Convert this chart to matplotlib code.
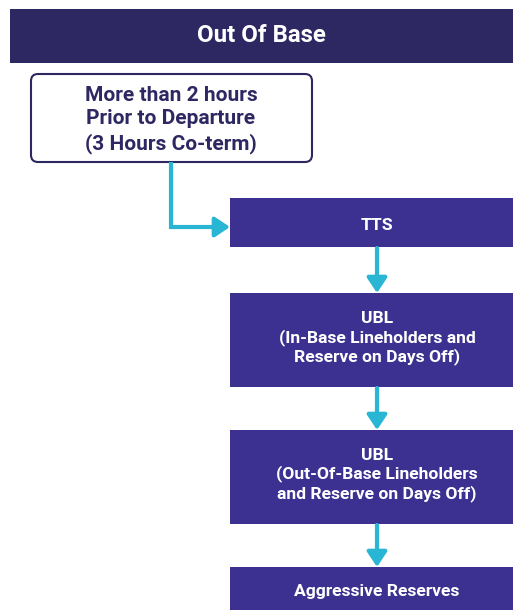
import matplotlib.pyplot as plt
from matplotlib.patches import Rectangle, FancyBboxPatch

plt.rcParams['font.family'] = ['Roboto', 'DejaVu Sans']

header_text = 'Out Of Base'
start_text = 'More than 2 hours\nPrior to Departure\n(3 Hours Co-term)'
step_labels = [
    'TTS',
    'UBL\n(In-Base Lineholders and\nReserve on Days Off)',
    'UBL\n(Out-Of-Base Lineholders\nand Reserve on Days Off)',
    'Aggressive Reserves',
]

# layout in pixels (top, bottom) of each step box
step_rows = [(198, 247), (293, 387), (430, 524), (567, 610)]
step_x0, step_x1 = 230, 524

dark = '#2d2762'
box_col = '#3c3190'
arrow_col = '#29b6d4'

fig = plt.figure(figsize=(5.13, 6.10), dpi=100)
ax = fig.add_axes([0, 0, 1, 1])
ax.set_xlim(0, 513)
ax.set_ylim(610, 0)
ax.axis('off')

# header band
ax.add_patch(Rectangle((10, 9), 503, 54, color=dark, lw=0))
ax.text(261, 35, header_text, color='white', fontsize=17.3,
        fontweight='bold', ha='center', va='center')

# starting condition box
ax.add_patch(FancyBboxPatch((31, 74), 281, 88,
                            boxstyle='round,pad=0,rounding_size=7',
                            fc='white', ec=dark, lw=1.5))
ax.text(171, 120, start_text, color=dark, fontsize=15,
        fontweight='bold', ha='center', va='center', linespacing=1.31)

# elbow connector to first step
ax.plot([171, 171, 218], [162, 227, 227], color=arrow_col, lw=3,
        solid_capstyle='butt', solid_joinstyle='miter')
ax.annotate('', xy=(step_x0, 227), xytext=(214, 227),
            arrowprops=dict(arrowstyle='-|>,head_length=0.9,head_width=0.6',
                            color=arrow_col, lw=3, shrinkA=0, shrinkB=0))

cx = 377
for i, (label, (top, bot)) in enumerate(zip(step_labels, step_rows)):
    ax.add_patch(Rectangle((step_x0, top), step_x1 - step_x0, bot - top,
                           color=box_col, lw=0))
    nlines = label.count('\n') + 1
    ty = (top + bot) / 2 + (3 if nlines == 1 else -2)
    ax.text(cx, ty, label, color='white', fontsize=12.6,
            fontweight='bold', ha='center', va='center', linespacing=1.22)
    if i + 1 < len(step_rows):
        nxt = step_rows[i + 1][0]
        ax.annotate('', xy=(cx, nxt), xytext=(cx, bot + 1),
                    arrowprops=dict(arrowstyle='-|>,head_length=0.9,head_width=0.6',
                                    color=arrow_col, lw=3, shrinkA=0, shrinkB=0))

fig.savefig('out.png', dpi=100)
